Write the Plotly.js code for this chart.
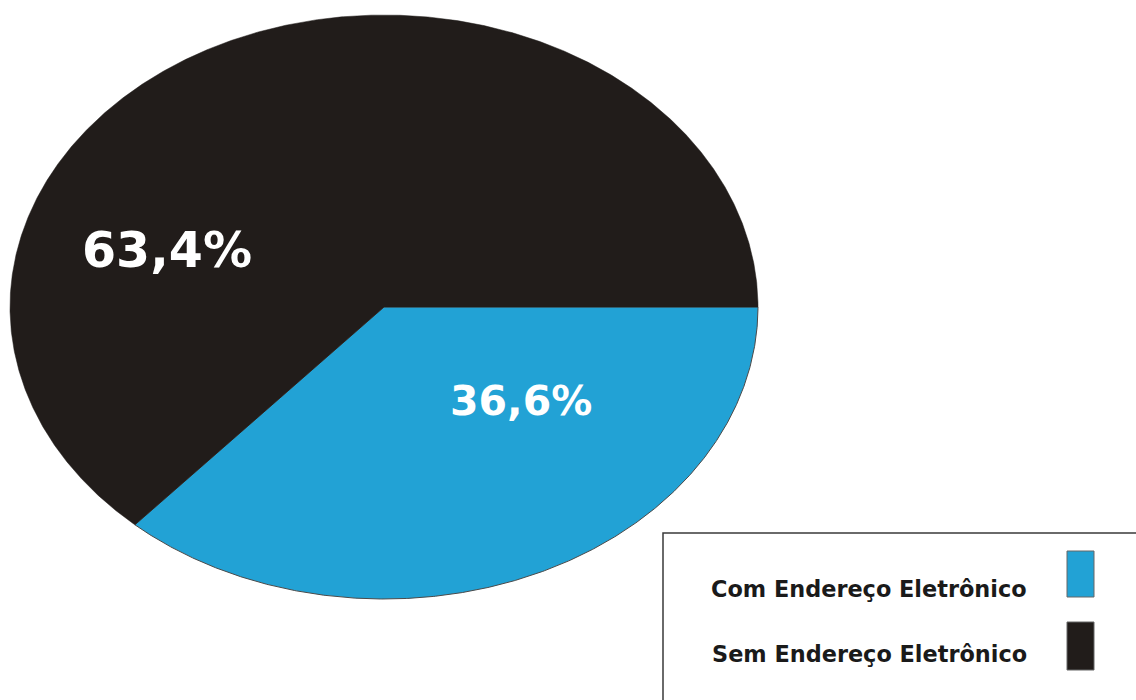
<!DOCTYPE html>
<html><head><meta charset="utf-8">
<script src="https://cdn.plot.ly/plotly-3.0.1.min.js"></script>
<style>html,body{margin:0;padding:0;background:#fff}#chart{width:1136px;height:700px}</style>
</head><body><div id="chart"></div>
<script>
// Data
const categories = ["Com Endereço Eletrônico", "Sem Endereço Eletrônico"];
const values = [36.6, 63.4];
const colors = ["#22a2d5", "#211c1a"];
const labelPos = [[0.365, -0.322], [-0.58, 0.195]];
const labelSizes = [41, 49];

const W = 1136, H = 700;
const px = v => v / W, py = v => 1 - v / H;

const total = values.reduce((a, b) => a + b, 0);
const traces = [];
let cum = 0;
values.forEach((v, i) => {
  const a0 = cum / total * 2 * Math.PI;
  cum += v;
  const a1 = cum / total * 2 * Math.PI;
  const xs = [0], ys = [0];
  const n = Math.max(4, Math.ceil((a1 - a0) / (Math.PI / 720)));
  for (let k = 0; k <= n; k++) {
    const a = a0 + (a1 - a0) * k / n;
    xs.push(Math.cos(-a)); ys.push(Math.sin(-a));
  }
  xs.push(0); ys.push(0);
  traces.push({
    type: "scatter", mode: "lines", x: xs, y: ys, fill: "toself",
    fillcolor: colors[i], name: categories[i],
    line: {color: i === 0 ? "#4a4a4a" : colors[i], width: i === 0 ? 1 : 0.5},
    hoverinfo: "skip", showlegend: false
  });
});

const fmt = v => v.toFixed(1).replace(".", ",") + "%";
const annotations = values.map((v, i) => ({
  x: labelPos[i][0], y: labelPos[i][1], xref: "x", yref: "y",
  text: fmt(v), showarrow: false,
  font: {family: "DejaVu Sans", size: labelSizes[i], color: "#ffffff", weight: "bold"}
}));

// legend (custom: text left, swatch right)
const legendRows = [589, 654];
const swatchTop = [551, 622], swatchBottom = [597, 670];
const shapes = [{
  type: "rect", xref: "paper", yref: "paper",
  x0: px(663), x1: px(1140), y0: py(533), y1: py(706),
  line: {color: "#3a3a3a", width: 1.5}, fillcolor: "rgba(0,0,0,0)"
}];
categories.forEach((c, i) => {
  shapes.push({
    type: "rect", xref: "paper", yref: "paper",
    x0: px(1067), x1: px(1094), y0: py(swatchBottom[i]), y1: py(swatchTop[i]),
    line: {color: "#666", width: 1}, fillcolor: colors[i]
  });
  annotations.push({
    x: px(869), y: py(legendRows[i]), xref: "paper", yref: "paper",
    text: c, showarrow: false, xanchor: "center", yanchor: "middle",
    font: {family: "DejaVu Sans", size: 22.4, color: "#1a1a1a", weight: "bold"}
  });
});

const xmin = -1 - 10 / 374, xmax = xmin + W / 374;
const ymax = 1 + 15 / 292, ymin = ymax - H / 292;

Plotly.newPlot("chart", traces, {
  width: W, height: H,
  margin: {l: 0, r: 0, t: 0, b: 0},
  paper_bgcolor: "#fff", plot_bgcolor: "#fff",
  xaxis: {range: [xmin, xmax], visible: false, fixedrange: true},
  yaxis: {range: [ymin, ymax], visible: false, fixedrange: true},
  showlegend: false,
  shapes: shapes, annotations: annotations
}, {displayModeBar: false, staticPlot: true});
</script></body></html>
